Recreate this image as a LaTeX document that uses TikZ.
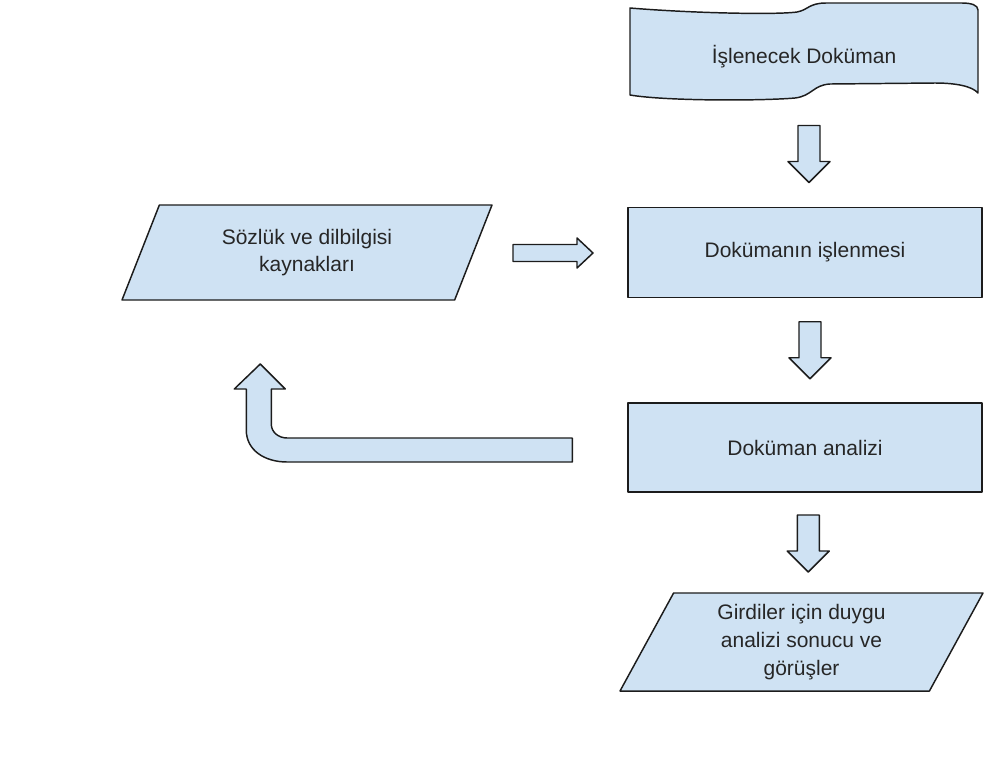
\documentclass[tikz,border=0pt]{standalone}
\usepackage{fontspec}
\setmainfont{Liberation Sans}
\usetikzlibrary{shapes.geometric,calc}
\definecolor{boxblue}{HTML}{CFE2F3}
\definecolor{edgegray}{HTML}{1C1C1C}

\begin{document}
\begin{tikzpicture}[
    x=0.75pt, y=-0.75pt,
    every node/.style={font=\fontsize{15.75}{20.8}\selectfont, text=black!85, align=center},
    shapefill/.style={draw=edgegray, fill=boxblue, line width=1.1pt, line join=round},
    procbox/.style={shapefill, rectangle, minimum width=354*0.75pt, minimum height=90*0.75pt},
    iobox/.style={shapefill, trapezium, trapezium stretches body, inner sep=0pt},
    down block/.pic={\draw[shapefill] (-11,-28.5) -- (11,-28.5) -- (11,7.5) -- (21,7.5)
        -- (0,28.5) -- (-21,7.5) -- (-11,7.5) -- cycle;},
    right block/.pic={\draw[shapefill] (-40,-8.5) -- (24,-8.5) -- (24,-15) -- (40,0)
        -- (24,15) -- (24,8.5) -- (-40,8.5) -- cycle;}]

\useasboundingbox (0,0) rectangle (984,765);

% input document (tape)
\draw[shapefill] (630,8) .. controls (690,13) and (775,15) .. (797,12)
    .. controls (808,10) and (809,3) .. (826,3) -- (962,3)
    .. controls (971,3) and (978,5) .. (978,10) -- (978,93)
    .. controls (972,86) and (955,83) .. (935,83) -- (830,84)
    .. controls (813,85) and (812,96) .. (795,98)
    .. controls (760,101) and (665,101) .. (630,95) -- cycle;
\node (src) at (804,57) {İşlenecek Doküman};

\node[procbox] (prep) at (805,252.5) {Dokümanın işlenmesi};
\node[procbox, minimum height=89*0.75pt] (anal) at (805,447.5) {Doküman analizi};

\node[iobox, minimum width=370*0.75pt, minimum height=95*0.75pt,
      trapezium left angle=51.7, trapezium right angle=128.3]
    (dict) at (307,252.5) {Sözlük ve dilbilgisi\\kaynakları};
\node[iobox, minimum width=363*0.75pt, minimum height=98*0.75pt,
      trapezium left angle=54.5, trapezium right angle=125.5]
    (res) at (801.5,642) {Girdiler için duygu\\analizi sonucu ve\\görüşler};

% block arrows
\pic at (809,154) {down block};
\pic at ($(prep.south)!.5!(anal.north)+(5,0)$) {down block};
\pic at ($(anal.south)!.5!(res.north)+(5,1)$) {down block};
\pic at (553,253) {right block};

% feedback arrow
\coordinate (back) at ($(anal.west)+(-55,2.5)$);
\draw[shapefill] (back) ++(0,12) -- ++(-285,0)
    .. controls +(-23,0) and +(0,20) .. ++(-41,-32) -- ++(0,-41)
    -- ++(-12,0) -- ++(26,-25) -- ++(25,25) -- ++(-14,0) -- ++(0,35)
    .. controls +(0,8) and +(-9,0) .. ++(16,14) -- ++(285,0) -- cycle;

\end{tikzpicture}
\end{document}
